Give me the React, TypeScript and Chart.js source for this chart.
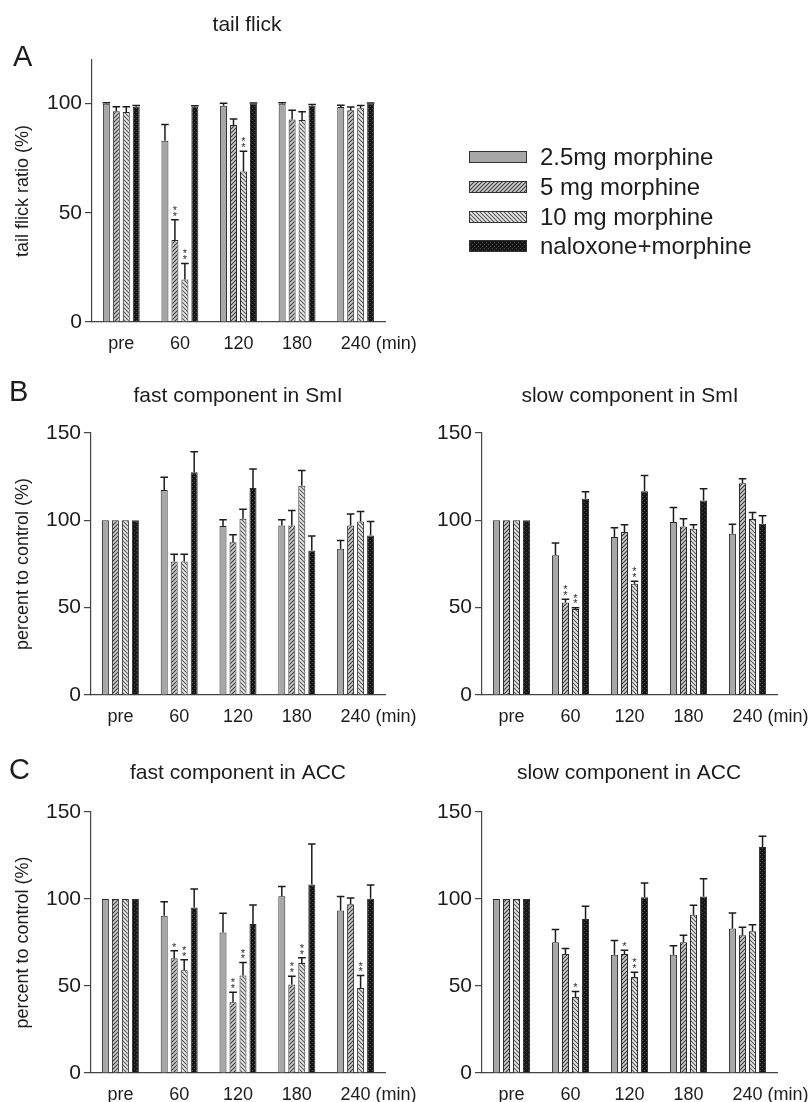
import React, { useEffect, useRef } from 'react';
import { Chart, registerables } from 'chart.js';

Chart.register(...registerables);

const FONT = '"Liberation Sans", Arial, Helvetica, sans-serif';
const INK = '#1c1c1c';

const categories = ['pre', '60', '120', '180', '240'];
const seriesLabels = ['2.5mg morphine', '5 mg morphine', '10 mg morphine', 'naloxone+morphine'];

// A: tail flick ratio (%)
const tailFlick25 = [100, 83, 99, 100, 98.5];
const tailFlick25Err = [0.4, 7.5, 1.2, 0.4, 0.8];
const tailFlick5 = [96.5, 37.6, 90.2, 92.8, 97];
const tailFlick5Err = [2.1, 9.2, 2.8, 4.2, 1.5];
const tailFlick10 = [96.2, 19.5, 68.9, 92.5, 97.9];
const tailFlick10Err = [2.4, 7.3, 9.3, 3.8, 1.3];
const tailFlickNal = [98.6, 98.6, 100, 99, 100];
const tailFlickNalErr = [0.6, 0.5, 0.3, 0.6, 0.3];
const tailFlickSig5 = ['', '**', '', '', ''];
const tailFlickSig10 = ['', '**', '**', '', ''];

// B left: fast component in SmI
const fastSmI25 = [100, 117.4, 96.8, 97, 83.7];
const fastSmI25Err = [0, 7.3, 3.6, 3.4, 4.8];
const fastSmI5 = [100, 76.4, 87.5, 97, 97.1];
const fastSmI5Err = [0, 4.2, 4.2, 8.7, 6.5];
const fastSmI10 = [100, 76.4, 100.9, 119.8, 99.4];
const fastSmI10Err = [0, 4.2, 5.5, 8.8, 5.7];
const fastSmINal = [100, 127.6, 118.5, 82.7, 91.3];
const fastSmINalErr = [0, 11.6, 10.9, 8.3, 8.1];
const fastSmISig5 = ['', '', '', '', ''];
const fastSmISig10 = ['', '', '', '', ''];

// B right: slow component in SmI
const slowSmI25 = [100, 80, 90.5, 99, 92.3];
const slowSmI25Err = [0, 7, 5.3, 8.4, 5.5];
const slowSmI5 = [100, 53, 93.3, 96.5, 121.3];
const slowSmI5Err = [0, 1.8, 4.1, 4.4, 2.5];
const slowSmI10 = [100, 49.2, 63.7, 95.2, 100.7];
const slowSmI10Err = [0, 0.8, 1.4, 2.3, 3.8];
const slowSmINal = [100, 112.3, 116.6, 111.4, 98];
const slowSmINalErr = [0, 4, 9, 6.7, 4.6];
const slowSmISig5 = ['', '**', '', '', ''];
const slowSmISig10 = ['', '**', '**', '', ''];

// C left: fast component in ACC
const fastACC25 = [100, 90.4, 80.8, 101.6, 93.4];
const fastACC25Err = [0, 8, 11, 5.6, 8];
const fastACC5 = [100, 66, 40.6, 50.8, 97];
const fastACC5Err = [0, 4.2, 5.8, 4.8, 3.6];
const fastACC10 = [100, 59.1, 56, 63.2, 48.9];
const fastACC10Err = [0, 6, 7.5, 3, 7.1];
const fastACCNal = [100, 95.1, 85.7, 108.3, 100.1];
const fastACCNalErr = [0, 10.6, 10.8, 23.3, 7.9];
const fastACCSig5 = ['', '*', '**', '**', ''];
const fastACCSig10 = ['', '**', '**', '**', '**'];

// C right: slow component in ACC
const slowACC25 = [100, 75.1, 68, 68, 83];
const slowACC25Err = [0, 7.3, 8.1, 5.2, 9];
const slowACC5 = [100, 68.4, 68.4, 75.1, 79.1];
const slowACC5Err = [0, 3.1, 2.1, 4, 4.6];
const slowACC10 = [100, 43.7, 55.2, 91, 81.4];
const slowACC10Err = [0, 3.2, 2.7, 5.4, 3.8];
const slowACCNal = [100, 88.5, 101, 101.5, 129.9];
const slowACCNalErr = [0, 7.3, 8.2, 10.2, 6.1];
const slowACCSig5 = ['', '', '*', '', ''];
const slowACCSig10 = ['', '*', '**', '', ''];

const noSig = ['', '', '', '', ''];

type Series = { data: number[]; err: number[]; sig: string[] };
type PanelSpec = {
  x: number; y: number; w: number; h: number;
  area: { left: number; right: number; top: number; bottom: number };
  yMax: number;
  title: string; titleX: number; titleY: number;
  letter?: string; letterX?: number; letterY?: number;
  yTitle?: string;
  legend?: boolean;
  series: Series[];
};

const panels: PanelSpec[] = [
  {
    x: 0, y: 0, w: 810, h: 360,
    area: { left: 92, right: 385, top: 60, bottom: 322 },
    yMax: 120, title: 'tail flick', titleX: 247, titleY: 25,
    letter: 'A', letterX: 13, letterY: 58, yTitle: 'tail flick ratio (%)', legend: true,
    series: [
      { data: tailFlick25, err: tailFlick25Err, sig: noSig },
      { data: tailFlick5, err: tailFlick5Err, sig: tailFlickSig5 },
      { data: tailFlick10, err: tailFlick10Err, sig: tailFlickSig10 },
      { data: tailFlickNal, err: tailFlickNalErr, sig: noSig },
    ],
  },
  {
    x: 0, y: 370, w: 440, h: 360,
    area: { left: 91, right: 385, top: 63, bottom: 325 },
    yMax: 150, title: 'fast component in SmI', titleX: 238, titleY: 26,
    letter: 'B', letterX: 9, letterY: 23, yTitle: 'percent to control (%)',
    series: [
      { data: fastSmI25, err: fastSmI25Err, sig: noSig },
      { data: fastSmI5, err: fastSmI5Err, sig: fastSmISig5 },
      { data: fastSmI10, err: fastSmI10Err, sig: fastSmISig10 },
      { data: fastSmINal, err: fastSmINalErr, sig: noSig },
    ],
  },
  {
    x: 400, y: 370, w: 410, h: 360,
    area: { left: 82, right: 377, top: 63, bottom: 325 },
    yMax: 150, title: 'slow component in SmI', titleX: 230, titleY: 26,
    series: [
      { data: slowSmI25, err: slowSmI25Err, sig: noSig },
      { data: slowSmI5, err: slowSmI5Err, sig: slowSmISig5 },
      { data: slowSmI10, err: slowSmI10Err, sig: slowSmISig10 },
      { data: slowSmINal, err: slowSmINalErr, sig: noSig },
    ],
  },
  {
    x: 0, y: 750, w: 440, h: 352,
    area: { left: 91, right: 385, top: 62, bottom: 323 },
    yMax: 150, title: 'fast component in ACC', titleX: 238, titleY: 23,
    letter: 'C', letterX: 9, letterY: 21, yTitle: 'percent to control (%)',
    series: [
      { data: fastACC25, err: fastACC25Err, sig: noSig },
      { data: fastACC5, err: fastACC5Err, sig: fastACCSig5 },
      { data: fastACC10, err: fastACC10Err, sig: fastACCSig10 },
      { data: fastACCNal, err: fastACCNalErr, sig: noSig },
    ],
  },
  {
    x: 400, y: 750, w: 410, h: 352,
    area: { left: 82, right: 377, top: 62, bottom: 323 },
    yMax: 150, title: 'slow component in ACC', titleX: 229, titleY: 23,
    series: [
      { data: slowACC25, err: slowACC25Err, sig: noSig },
      { data: slowACC5, err: slowACC5Err, sig: slowACCSig5 },
      { data: slowACC10, err: slowACC10Err, sig: slowACCSig10 },
      { data: slowACCNal, err: slowACCNalErr, sig: noSig },
    ],
  },
];

function makeFills(ctx: CanvasRenderingContext2D): (string | CanvasPattern)[] {
  const tile = (s: number, draw: (g: CanvasRenderingContext2D) => void) => {
    const c = document.createElement('canvas');
    c.width = s; c.height = s;
    const g = c.getContext('2d')!;
    draw(g);
    return ctx.createPattern(c, 'repeat')!;
  };
  const fwd = tile(4, (g) => {
    g.fillStyle = '#cfcfcf'; g.fillRect(0, 0, 4, 4);
    g.strokeStyle = '#3a3a3a'; g.lineWidth = 1.1;
    g.beginPath();
    g.moveTo(-1, 5); g.lineTo(5, -1);
    g.moveTo(-1, 1); g.lineTo(1, -1);
    g.moveTo(3, 5); g.lineTo(5, 3);
    g.stroke();
  });
  const back = tile(4, (g) => {
    g.fillStyle = '#ececec'; g.fillRect(0, 0, 4, 4);
    g.strokeStyle = '#555'; g.lineWidth = 1.1;
    g.beginPath();
    g.moveTo(-1, -1); g.lineTo(5, 5);
    g.moveTo(3, -1); g.lineTo(5, 1);
    g.moveTo(-1, 3); g.lineTo(1, 5);
    g.stroke();
  });
  const dots = tile(4, (g) => {
    g.fillStyle = '#161616'; g.fillRect(0, 0, 4, 4);
    g.fillStyle = '#4a4a4a';
    g.fillRect(0, 0, 1, 1); g.fillRect(2, 2, 1, 1);
  });
  return ['#a7a7a7', fwd, back, dots];
}

function buildConfig(spec: PanelSpec, ctx: CanvasRenderingContext2D): any {
  const fills = makeFills(ctx);
  const decor = {
    id: 'decor',
    afterDatasetsDraw(chart: any) {
      const c = chart.ctx;
      const yS = chart.scales.y;
      c.save();
      spec.series.forEach((s, di) => {
        const meta = chart.getDatasetMeta(di);
        meta.data.forEach((el: any, i: number) => {
          const e = s.err[i];
          const top = yS.getPixelForValue(s.data[i] + e);
          if (e > 0) {
            c.strokeStyle = INK;
            c.lineWidth = 1.5;
            c.beginPath();
            c.moveTo(el.x, el.y);
            c.lineTo(el.x, top);
            c.moveTo(el.x - 3.8, top);
            c.lineTo(el.x + 3.8, top);
            c.stroke();
          }
          const sig = s.sig[i];
          if (sig) {
            c.fillStyle = '#2a2a2a';
            c.font = `11px ${FONT}`;
            c.textAlign = 'center';
            c.textBaseline = 'alphabetic';
            for (let k = 0; k < sig.length; k++) {
              const yc = top - 6.5 - k * 5.8;
              c.fillText('*', el.x, yc + 6.3);
            }
          }
        });
      });
      c.restore();
    },
    afterDraw(chart: any) {
      const c = chart.ctx;
      c.save();
      c.fillStyle = INK;
      c.textBaseline = 'middle';
      c.textAlign = 'center';
      c.font = `21px ${FONT}`;
      c.fillText(spec.title, spec.titleX, spec.titleY);
      if (spec.letter) {
        c.textAlign = 'left';
        c.font = `29px ${FONT}`;
        c.fillText(spec.letter, spec.letterX, spec.letterY);
      }
      // "(min)" after the last category label
      const xS = chart.scales.x;
      const items = xS.getLabelItems ? xS.getLabelItems() : null;
      if (items && items.length) {
        const last = items[items.length - 1];
        const [lx, ly] = last.options.translation;
        c.font = last.font.string;
        c.fillStyle = INK;
        c.textAlign = 'left';
        c.textBaseline = last.options.textBaseline;
        const w = c.measureText(String(last.label)).width;
        const sp = c.measureText(' ').width;
        c.fillText('(min)', lx + w / 2 + sp, ly + last.textOffset);
      }
      if (spec.legend) {
        const rowY = [157, 187, 217, 246];
        seriesLabels.forEach((lab, i) => {
          c.fillStyle = fills[i];
          c.fillRect(469, rowY[i] - 5.5, 57, 11);
          c.strokeStyle = '#333';
          c.lineWidth = 1;
          c.strokeRect(469.5, rowY[i] - 5.5, 57, 11);
          c.fillStyle = INK;
          c.font = `24px ${FONT}`;
          c.textAlign = 'left';
          c.textBaseline = 'middle';
          c.fillText(lab, 540, rowY[i] + 1);
        });
      }
      c.restore();
    },
  };

  return {
    type: 'bar',
    data: {
      labels: categories,
      datasets: spec.series.map((s, i) => ({
        label: seriesLabels[i],
        data: s.data,
        backgroundColor: fills[i],
        borderColor: '#2a2a2a',
        borderWidth: 1,
        borderSkipped: 'bottom',
        categoryPercentage: 0.68,
        barPercentage: 0.7,
      })),
    },
    options: {
      responsive: false,
      animation: false,
      events: [],
      layout: {
        padding: { left: 0, top: spec.area.top, right: spec.w - spec.area.right, bottom: 0 },
      },
      plugins: {
        legend: { display: false },
        title: { display: false },
        tooltip: { enabled: false },
      },
      scales: {
        x: {
          type: 'category',
          grid: { display: false },
          border: { display: true, color: '#444', width: 1.2 },
          ticks: { color: INK, font: { family: FONT, size: 18 }, padding: 3, maxRotation: 0, autoSkip: false },
          afterFit: (s: any) => { s.height = spec.h - spec.area.bottom; },
        },
        y: {
          min: 0,
          max: spec.yMax,
          grid: { display: true, drawOnChartArea: false, drawTicks: true, tickLength: 7, color: '#444', lineWidth: 1.2 },
          border: { display: true, color: '#444', width: 1.2 },
          ticks: { stepSize: 50, color: INK, font: { family: FONT, size: 21 }, padding: 3 },
          afterBuildTicks: (s: any) => { s.ticks = s.ticks.filter((t: any) => t.value % 50 === 0); },
          title: spec.yTitle
            ? { display: true, text: spec.yTitle, color: INK, font: { family: FONT, size: 18 }, padding: { top: 12, bottom: 0 } }
            : { display: false },
          afterFit: (s: any) => { s.width = spec.area.left; },
        },
      },
    },
    plugins: [decor],
  };
}

function Panel({ spec }: { spec: PanelSpec }) {
  const ref = useRef<HTMLCanvasElement>(null);
  useEffect(() => {
    const canvas = ref.current!;
    const ctx = canvas.getContext('2d')!;
    const chart = new Chart(ctx, buildConfig(spec, ctx));
    return () => chart.destroy();
  }, [spec]);
  return (
    <canvas
      ref={ref}
      width={spec.w}
      height={spec.h}
      style={{ position: 'absolute', left: spec.x, top: spec.y, width: spec.w, height: spec.h }}
    />
  );
}

export default function App() {
  return (
    <div style={{ position: 'absolute', left: 0, top: 0, width: 810, height: 1102, background: '#fff', overflow: 'hidden' }}>
      {panels.map((p, i) => (
        <Panel key={i} spec={p} />
      ))}
    </div>
  );
}
